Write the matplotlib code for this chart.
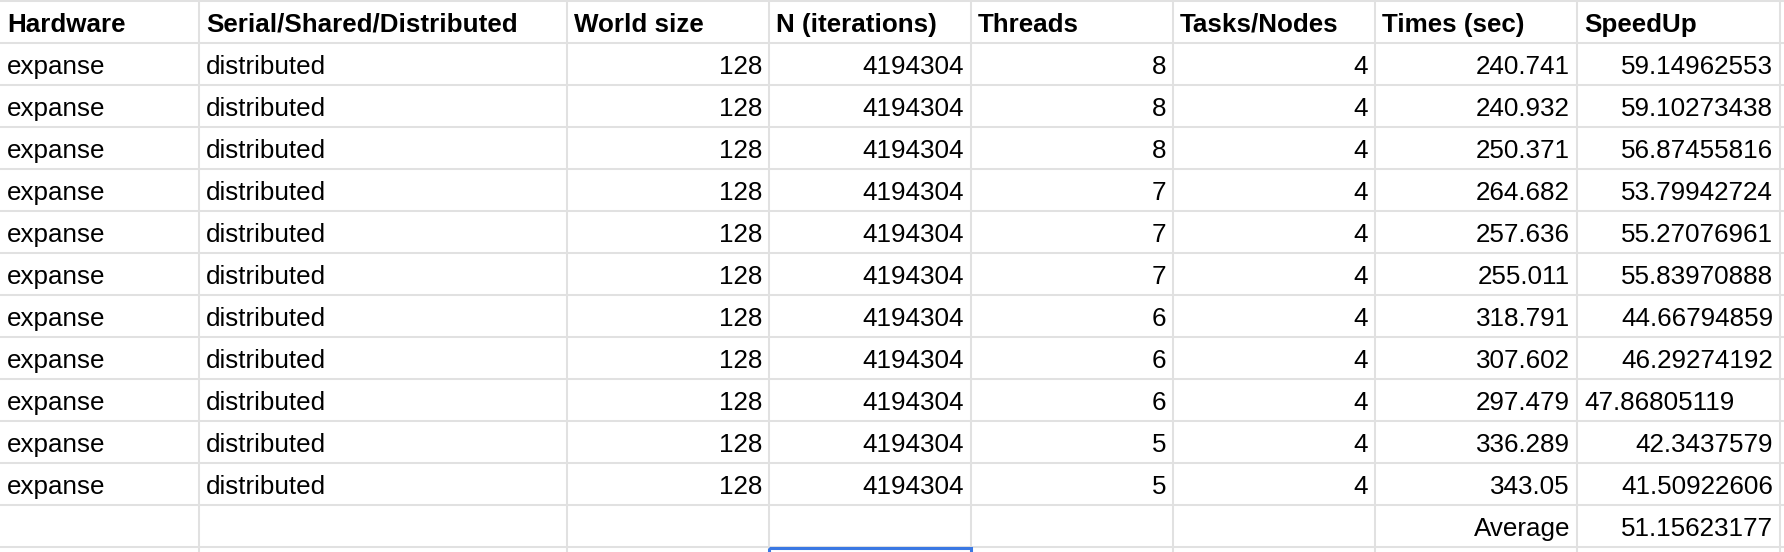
import matplotlib.pyplot as plt
from matplotlib.patches import Rectangle

# spreadsheet contents
headers = ['Hardware', 'Serial/Shared/Distributed', 'World size', 'N (iterations)',
           'Threads', 'Tasks/Nodes', 'Times (sec)', 'SpeedUp']
hardware = ['expanse'] * 11
mode = ['distributed'] * 11
world_size = [128] * 11
n_iter = [4194304] * 11
threads = [8, 8, 8, 7, 7, 7, 6, 6, 6, 5, 5]
tasks = [4] * 11
times = [240.741, 240.932, 250.371, 264.682, 257.636, 255.011,
         318.791, 307.602, 297.479, 336.289, 343.05]
speedup = [59.14962553, 59.10273438, 56.87455816, 53.79942724, 55.27076961,
           55.83970888, 44.66794859, 46.29274192, 47.86805119, 42.3437579,
           41.50922606]
speedup_align = ['right'] * 8 + ['left'] + ['right'] * 2
average_label = 'Average'
average_value = 51.15623177

# layout in pixels
col_edges = [0, 199, 567, 769, 971, 1173, 1375, 1577, 1780]
row_h = 42
top = 0.7
n_rows = 13
pad = 7
fs = 18.7
grid_col = '#e1e1e1'

plt.rcParams['font.family'] = ['Liberation Sans', 'DejaVu Sans']

fig = plt.figure(figsize=(17.84, 5.52), dpi=100, facecolor='white')
ax = fig.add_axes([0, 0, 1, 1])
ax.set_xlim(0, 1784)
ax.set_ylim(552, 0)
ax.axis('off')

# grid lines
row_lines = [top + i * row_h for i in range(n_rows + 1)]
ax.hlines(row_lines, 0, 1784, color=grid_col, lw=1.45, zorder=1)
ax.vlines(col_edges[1:], 0, 552, color=grid_col, lw=1.45, zorder=1)


def cell_text(r, c, s, align='left', bold=False):
    y = top + (r + 1) * row_h - 11
    if align == 'left':
        x = col_edges[c] + pad
    else:
        x = col_edges[c + 1] - pad
    ax.text(x, y, s, ha=align, va='baseline', fontsize=fs,
            fontweight='bold' if bold else 'normal', color='black', zorder=3)


for c, h in enumerate(headers):
    cell_text(0, c, h, bold=True)

for i in range(len(hardware)):
    r = i + 1
    cell_text(r, 0, hardware[i])
    cell_text(r, 1, mode[i])
    cell_text(r, 2, str(world_size[i]), 'right')
    cell_text(r, 3, str(n_iter[i]), 'right')
    cell_text(r, 4, str(threads[i]), 'right')
    cell_text(r, 5, str(tasks[i]), 'right')
    cell_text(r, 6, str(times[i]), 'right')
    cell_text(r, 7, str(speedup[i]), speedup_align[i])

cell_text(12, 6, average_label, 'right')
cell_text(12, 7, str(average_value), 'right')

# selected cell outline at the bottom
sel_y = top + n_rows * row_h
ax.add_patch(Rectangle((col_edges[3], sel_y + 1.2), col_edges[4] - col_edges[3], 30,
                       fill=False, edgecolor='#3a78e3', lw=2.2, zorder=4))

fig.savefig('out.png', dpi=100, facecolor='white')
